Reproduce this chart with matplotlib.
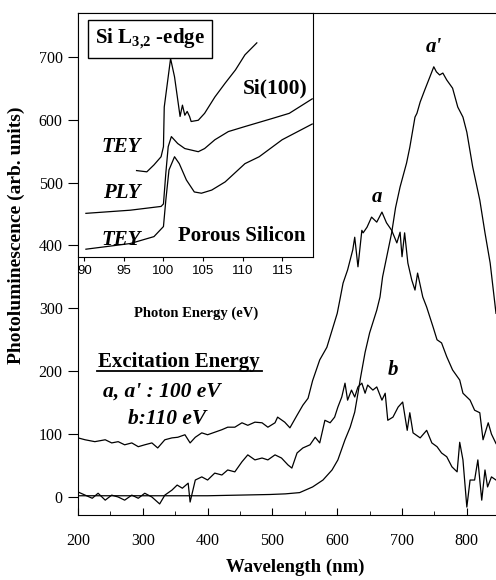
import matplotlib
matplotlib.use("Agg")
import matplotlib.pyplot as plt
from matplotlib.lines import Line2D
from matplotlib.ticker import MultipleLocator

plt.rcParams["font.family"] = ["Liberation Serif", "DejaVu Serif"]
plt.rcParams["mathtext.fontset"] = "custom"
plt.rcParams["mathtext.rm"] = "Liberation Serif"
plt.rcParams["mathtext.bf"] = "Liberation Serif:bold"

# main panel: PL spectra, wavelength (nm) vs intensity (arb. units)
wl_a = [200, 211, 226, 242, 252, 262, 272, 283, 293, 303, 314, 323, 334, 345, 354, 365,
        373, 381, 391, 400, 411, 422, 431, 442, 453, 462, 473, 484, 493, 504, 508, 519,
        527, 538, 547, 555, 562, 573, 584, 592, 600, 604, 609, 616, 624, 627, 632, 638,
        640, 646, 653, 661, 669, 676, 684, 692, 697, 700, 704, 709, 715, 720, 724, 732,
        738, 743, 748, 754, 761, 769, 778, 789, 794, 805, 812, 820, 825, 833, 838, 845]
pl_a = [94, 91, 88, 91, 86, 88, 83, 86, 80, 83, 86, 78, 91, 94, 95, 99,
        86, 95, 102, 99, 103, 107, 111, 111, 118, 114, 119, 118, 111, 118, 127, 119,
        110, 130, 146, 157, 185, 218, 238, 265, 292, 313, 340, 361, 393, 413, 366, 424,
        420, 429, 445, 437, 453, 436, 424, 404, 421, 382, 420, 372, 345, 329, 356, 318,
        302, 286, 270, 250, 245, 223, 202, 186, 165, 154, 138, 134, 91, 118, 100, 85]

wl_a2 = [200, 300, 400, 496, 520, 542, 562, 578, 592, 601, 612, 620, 627, 632, 636, 643,
         650, 661, 666, 670, 678, 684, 690, 697, 707, 712, 720, 723, 728, 735, 743, 749,
         753, 758, 763, 769, 778, 786, 794, 800, 809, 820, 828, 836, 845]
pl_a2 = [2, 2, 2, 4, 5, 7, 16, 27, 43, 59, 91, 111, 135, 165, 190, 230,
         261, 297, 318, 350, 390, 420, 460, 493, 531, 556, 604, 610, 628, 647, 668, 684,
         676, 671, 674, 663, 650, 620, 604, 580, 525, 472, 420, 372, 292]

wl_b = [200, 211, 222, 231, 242, 252, 262, 272, 283, 293, 303, 314, 326, 334, 345, 353,
        361, 370, 373, 381, 391, 400, 411, 422, 431, 442, 453, 462, 473, 484, 493, 504,
        514, 524, 530, 538, 547, 558, 566, 573, 581, 589, 596, 601, 607, 612, 616, 622,
        627, 632, 638, 643, 647, 655, 661, 669, 674, 678, 686, 694, 701, 708, 712, 717,
        728, 738, 746, 754, 761, 769, 777, 785, 789, 794, 800, 805, 812, 817, 823, 828,
        832, 838, 845]
pl_b = [8, 3, -2, 6, -5, 3, 0, -5, 3, -2, 6, 0, -11, 3, 11, 19,
        14, 22, -8, 27, 32, 27, 38, 35, 43, 40, 56, 67, 59, 62, 59, 67,
        62, 51, 46, 70, 78, 83, 95, 86, 122, 118, 127, 143, 159, 181, 154, 170,
        159, 175, 181, 165, 178, 170, 175, 154, 165, 122, 127, 143, 151, 106, 134, 102,
        94, 106, 86, 80, 70, 64, 48, 40, 87, 59, -16, 27, 27, 59, -5, 43,
        16, 32, 27]

# inset: Si L-edge yield spectra, photon energy (eV), y in main-panel units
ev_tey_si = [96.6, 97.9, 98.8, 99.7, 100.0, 100.1, 100.9, 101.4, 102.1, 102.4, 102.7,
             103.0, 103.3, 103.5, 104.4, 105.2, 106.5, 107.8, 109.1, 110.3, 111.8]
y_tey_si = [519, 517, 528, 541, 557, 620, 697, 668, 605, 623, 607,
            613, 605, 597, 599, 610, 636, 658, 679, 703, 722]

ev_ply = [90.2, 95.8, 99.7, 100.0, 100.3, 100.6, 101.0, 101.8, 102.7, 104.4, 105.2,
          106.5, 108.2, 110.3, 113.8, 115.9, 118.8]
y_ply = [451, 456, 462, 466, 515, 557, 573, 562, 554, 549, 554,
         568, 581, 589, 602, 610, 633]

ev_tey_ps = [90.2, 95.8, 98.8, 100.0, 100.3, 100.7, 101.4, 102.0, 102.9, 103.9, 104.8,
             106.1, 107.8, 110.3, 112.1, 115.0, 118.8]
y_tey_ps = [394, 403, 414, 430, 472, 520, 541, 530, 504, 485, 483,
            488, 501, 530, 541, 568, 593]

W, H = 496, 580
fig = plt.figure(figsize=(W / 100, H / 100), dpi=100)


def fx(px):
    return px / W


def fy(py):
    return 1 - py / H


ax = fig.add_axes([fx(78), fy(515), fx(496) - fx(78), fy(13) - fy(515)])
lw = 0.9
ax.plot(wl_a, pl_a, color="black", lw=lw)
ax.plot(wl_a2, pl_a2, color="black", lw=lw)
ax.plot(wl_b, pl_b, color="black", lw=lw)
ax.set_xlim(200, 845)
ax.set_ylim(-28.6, 769.5)
ax.spines["right"].set_visible(False)
ax.xaxis.set_major_locator(MultipleLocator(100))
ax.xaxis.set_minor_locator(MultipleLocator(50))
ax.yaxis.set_major_locator(MultipleLocator(100))
ax.tick_params(axis="x", which="major", direction="in", length=5, labelsize=11.5, pad=13)
ax.tick_params(axis="x", which="minor", direction="in", length=3)
ax.tick_params(axis="y", direction="out", length=7, labelsize=11.5, pad=4)

fig.text(fx(295), fy(567), "Wavelength (nm)", fontsize=13.5, fontweight="bold",
         ha="center", va="center")
fig.text(fx(16), fy(235), "Photoluminescence (arb. units)", fontsize=14,
         fontweight="bold", rotation=90, ha="center", va="center")

lbl = dict(fontsize=15, fontweight="bold", fontstyle="italic", ha="center", va="center")
fig.text(fx(434), fy(47), "a'", **lbl)
fig.text(fx(377), fy(197), "a", **lbl)
fig.text(fx(393), fy(370), "b", **lbl)

fig.text(fx(98), fy(362), "Excitation Energy", fontsize=15, fontweight="bold",
         ha="left", va="center")
fig.add_artist(Line2D([fx(97), fx(262)], [fy(371), fy(371)], color="black", lw=1.3,
                      transform=fig.transFigure))
fig.text(fx(103), fy(392), "a, a' : 100 eV", fontsize=15.5, fontweight="bold",
         fontstyle="italic", ha="left", va="center")
fig.text(fx(128), fy(419), "b:110 eV", fontsize=15.5, fontweight="bold",
         fontstyle="italic", ha="left", va="center")

# inset
ins = fig.add_axes([fx(78), fy(257), fx(313) - fx(78), fy(13) - fy(257)])
ins.set_facecolor("white")
ins.plot(ev_tey_si, y_tey_si, color="black", lw=lw)
ins.plot(ev_ply, y_ply, color="black", lw=lw)
ins.plot(ev_tey_ps, y_tey_ps, color="black", lw=lw)
ins.set_xlim(89.2, 118.9)
ins.set_ylim(381.6, 769.5)
ins.set_yticks([])
ins.xaxis.set_major_locator(MultipleLocator(5))
ins.tick_params(axis="x", direction="out", length=3, labelsize=9.5, pad=3)
for t in ins.get_xticklabels():
    t.set_family(["Liberation Sans", "DejaVu Sans"])
fig.text(fx(196), fy(313), "Photon Energy (eV)", fontsize=10.5, fontweight="bold",
         ha="center", va="center")

fig.text(fx(150), fy(39), "Si L$_{\\mathbf{3{,}2}}$ -edge", fontsize=15, fontweight="bold",
         ha="center", va="center",
         bbox=dict(boxstyle="square,pad=0.33", facecolor="white", edgecolor="black", lw=1))
fig.text(fx(275), fy(88), "Si(100)", fontsize=15.5, fontweight="bold", ha="center", va="center")
fig.text(fx(121), fy(147), "TEY", fontsize=15, fontweight="bold", fontstyle="italic",
         ha="center", va="center")
fig.text(fx(122), fy(193), "PLY", fontsize=15, fontweight="bold", fontstyle="italic",
         ha="center", va="center")
fig.text(fx(121), fy(240), "TEY", fontsize=15, fontweight="bold", fontstyle="italic",
         ha="center", va="center")
fig.text(fx(242), fy(236), "Porous Silicon", fontsize=15, fontweight="bold",
         ha="center", va="center")

fig.savefig("out.png", dpi=100)
